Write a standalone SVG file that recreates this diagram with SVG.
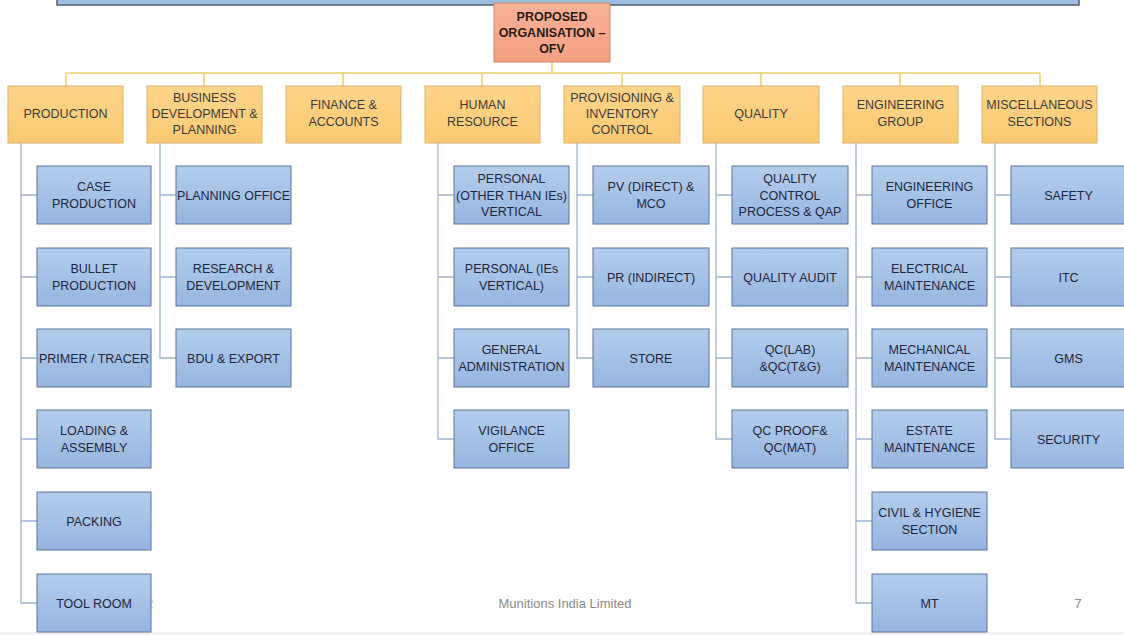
<svg xmlns="http://www.w3.org/2000/svg" width="1124" height="635" viewBox="0 0 1124 635">
  <defs>
    <linearGradient id="blueFill" x1="0" y1="0" x2="0" y2="1">
      <stop offset="0" stop-color="#b3cdec"/>
      <stop offset="1" stop-color="#97b5de"/>
    </linearGradient>
    <linearGradient id="goldFill" x1="0" y1="0" x2="0" y2="1">
      <stop offset="0" stop-color="#fdd48a"/>
      <stop offset="1" stop-color="#fbca72"/>
    </linearGradient>
    <linearGradient id="rootFill" x1="0" y1="0" x2="0" y2="1">
      <stop offset="0" stop-color="#f9b197"/>
      <stop offset="1" stop-color="#f4a082"/>
    </linearGradient>
    <style>
      text { font-family: "Liberation Sans", Arial, sans-serif; text-anchor: middle; }
      .unit rect { fill: url(#blueFill); stroke: #5b7498; stroke-width: 1; }
      .unit text { font-size: 12.5px; fill: #1e2740; }
      .dept rect { fill: url(#goldFill); stroke: #d8b36a; stroke-width: 1; }
      .dept text { font-size: 12.5px; fill: #3c3c3c; }
      .root rect { fill: url(#rootFill); stroke: #c88a72; stroke-width: 1; }
      .root text { font-size: 12.5px; font-weight: bold; fill: #2b1a14; }
      .bus { stroke: #f3d170; stroke-width: 1.6; fill: none; }
      .spine { stroke: #9fb4cf; stroke-width: 1.3; fill: none; }
      .footer { font-size: 13px; fill: #8a8a8a; }
    </style>
  </defs>

  <rect x="0" y="0" width="1124" height="635" fill="#ffffff"/>

  <!-- title banner edge along the top -->
  <rect x="57" y="-4" width="1022" height="9" fill="#9dbfe3" stroke="#5a5f6a" stroke-width="1.5"/>

  <!-- page footer -->
  <g id="footer">
    <text class="footer" x="150" y="608" fill="#c8c8c8" style="fill:#d0d0d0">2</text>
    <text class="footer" x="565" y="608">Munitions India Limited</text>
    <text class="footer" x="1078" y="608">7</text>
  </g>
  <rect x="0" y="632" width="1124" height="3" fill="#f1f1f1"/>

  <!-- connectors -->
  <g id="connectors">
    <path class="bus" d="M552 62 V73 M66 73 H1040 M66 73 V86 M204 73 V86 M343 73 V86 M482 73 V86 M622 73 V86 M761 73 V86 M900 73 V86 M1040 73 V86"/>
    <!-- production -->
    <path class="spine" d="M21 143 V603 H37 M21 195 H37 M21 277 H37 M21 358 H37 M21 439 H37 M21 521 H37"/>
    <!-- business development -->
    <path class="spine" d="M160 143 V358 H176 M160 195 H176 M160 277 H176"/>
    <!-- human resource -->
    <path class="spine" d="M438 143 V439 H454 M438 195 H454 M438 277 H454 M438 358 H454"/>
    <!-- provisioning -->
    <path class="spine" d="M577 143 V358 H593 M577 195 H593 M577 277 H593"/>
    <!-- quality -->
    <path class="spine" d="M716 143 V439 H732 M716 195 H732 M716 277 H732 M716 358 H732"/>
    <!-- engineering -->
    <path class="spine" d="M856 143 V603 H872 M856 195 H872 M856 277 H872 M856 358 H872 M856 439 H872 M856 521 H872"/>
    <!-- miscellaneous -->
    <path class="spine" d="M995 143 V439 H1011 M995 195 H1011 M995 277 H1011 M995 358 H1011"/>
  </g>

  <!-- root -->
  <g id="root" class="root">
    <rect x="494" y="3" width="116" height="59"/>
    <text x="552" y="20.5">PROPOSED</text>
    <text x="552" y="36.5">ORGANISATION –</text>
    <text x="552" y="52.5">OFV</text>
  </g>

  <!-- departments -->
  <g id="dept-production" class="dept">
    <rect x="8" y="86" width="115" height="57"/>
    <text x="65.5" y="117.5">PRODUCTION</text>
  </g>
  <g id="dept-business" class="dept">
    <rect x="147" y="86" width="115" height="57"/>
    <text x="204.5" y="101.5">BUSINESS</text>
    <text x="204.5" y="117.5">DEVELOPMENT &amp;</text>
    <text x="204.5" y="133.5">PLANNING</text>
  </g>
  <g id="dept-finance" class="dept">
    <rect x="286" y="86" width="115" height="57"/>
    <text x="343.5" y="109">FINANCE &amp;</text>
    <text x="343.5" y="126">ACCOUNTS</text>
  </g>
  <g id="dept-hr" class="dept">
    <rect x="425" y="86" width="115" height="57"/>
    <text x="482.5" y="109">HUMAN</text>
    <text x="482.5" y="126">RESOURCE</text>
  </g>
  <g id="dept-provisioning" class="dept">
    <rect x="564" y="86" width="116" height="57"/>
    <text x="622" y="101.5">PROVISIONING &amp;</text>
    <text x="622" y="117.5">INVENTORY</text>
    <text x="622" y="133.5">CONTROL</text>
  </g>
  <g id="dept-quality" class="dept">
    <rect x="703" y="86" width="116" height="57"/>
    <text x="761" y="117.5">QUALITY</text>
  </g>
  <g id="dept-engineering" class="dept">
    <rect x="843" y="86" width="115" height="57"/>
    <text x="900.5" y="109">ENGINEERING</text>
    <text x="900.5" y="126">GROUP</text>
  </g>
  <g id="dept-misc" class="dept">
    <rect x="982" y="86" width="115" height="57"/>
    <text x="1039.5" y="109">MISCELLANEOUS</text>
    <text x="1039.5" y="126">SECTIONS</text>
  </g>

  <!-- production units -->
  <g id="case-production" class="unit">
    <rect x="37" y="166" width="114" height="58"/>
    <text x="94" y="191">CASE</text>
    <text x="94" y="207.5">PRODUCTION</text>
  </g>
  <g id="bullet-production" class="unit">
    <rect x="37" y="248" width="114" height="58"/>
    <text x="94" y="273">BULLET</text>
    <text x="94" y="289.5">PRODUCTION</text>
  </g>
  <g id="primer-tracer" class="unit">
    <rect x="37" y="329" width="114" height="58"/>
    <text x="94" y="362.5">PRIMER / TRACER</text>
  </g>
  <g id="loading-assembly" class="unit">
    <rect x="37" y="410" width="114" height="58"/>
    <text x="94" y="435">LOADING &amp;</text>
    <text x="94" y="451.5">ASSEMBLY</text>
  </g>
  <g id="packing" class="unit">
    <rect x="37" y="492" width="114" height="58"/>
    <text x="94" y="525.5">PACKING</text>
  </g>
  <g id="tool-room" class="unit">
    <rect x="37" y="574" width="114" height="58"/>
    <text x="94" y="607.5">TOOL ROOM</text>
  </g>

  <!-- business development units -->
  <g id="planning-office" class="unit">
    <rect x="176" y="166" width="115" height="58"/>
    <text x="233.5" y="199.5">PLANNING OFFICE</text>
  </g>
  <g id="research-development" class="unit">
    <rect x="176" y="248" width="115" height="58"/>
    <text x="233.5" y="273">RESEARCH &amp;</text>
    <text x="233.5" y="289.5">DEVELOPMENT</text>
  </g>
  <g id="bdu-export" class="unit">
    <rect x="176" y="329" width="115" height="58"/>
    <text x="233.5" y="362.5">BDU &amp; EXPORT</text>
  </g>

  <!-- human resource units -->
  <g id="personal-other" class="unit">
    <rect x="454" y="166" width="115" height="58"/>
    <text x="511.5" y="183">PERSONAL</text>
    <text x="511.5" y="199.5">(OTHER THAN IEs)</text>
    <text x="511.5" y="216">VERTICAL</text>
  </g>
  <g id="personal-ies" class="unit">
    <rect x="454" y="248" width="115" height="58"/>
    <text x="511.5" y="273">PERSONAL (IEs</text>
    <text x="511.5" y="289.5">VERTICAL)</text>
  </g>
  <g id="general-admin" class="unit">
    <rect x="454" y="329" width="115" height="58"/>
    <text x="511.5" y="354">GENERAL</text>
    <text x="511.5" y="370.5">ADMINISTRATION</text>
  </g>
  <g id="vigilance-office" class="unit">
    <rect x="454" y="410" width="115" height="58"/>
    <text x="511.5" y="435">VIGILANCE</text>
    <text x="511.5" y="451.5">OFFICE</text>
  </g>

  <!-- provisioning units -->
  <g id="pv-direct" class="unit">
    <rect x="593" y="166" width="116" height="58"/>
    <text x="651" y="191">PV (DIRECT) &amp;</text>
    <text x="651" y="207.5">MCO</text>
  </g>
  <g id="pr-indirect" class="unit">
    <rect x="593" y="248" width="116" height="58"/>
    <text x="651" y="281.5">PR (INDIRECT)</text>
  </g>
  <g id="store" class="unit">
    <rect x="593" y="329" width="116" height="58"/>
    <text x="651" y="362.5">STORE</text>
  </g>

  <!-- quality units -->
  <g id="qc-process" class="unit">
    <rect x="732" y="166" width="116" height="58"/>
    <text x="790" y="183">QUALITY</text>
    <text x="790" y="199.5">CONTROL</text>
    <text x="790" y="216">PROCESS &amp; QAP</text>
  </g>
  <g id="quality-audit" class="unit">
    <rect x="732" y="248" width="116" height="58"/>
    <text x="790" y="281.5">QUALITY AUDIT</text>
  </g>
  <g id="qc-lab" class="unit">
    <rect x="732" y="329" width="116" height="58"/>
    <text x="790" y="354">QC(LAB)</text>
    <text x="790" y="370.5">&amp;QC(T&amp;G)</text>
  </g>
  <g id="qc-proof" class="unit">
    <rect x="732" y="410" width="116" height="58"/>
    <text x="790" y="435">QC PROOF&amp;</text>
    <text x="790" y="451.5">QC(MAT)</text>
  </g>

  <!-- engineering units -->
  <g id="engineering-office" class="unit">
    <rect x="872" y="166" width="115" height="58"/>
    <text x="929.5" y="191">ENGINEERING</text>
    <text x="929.5" y="207.5">OFFICE</text>
  </g>
  <g id="electrical-maintenance" class="unit">
    <rect x="872" y="248" width="115" height="58"/>
    <text x="929.5" y="273">ELECTRICAL</text>
    <text x="929.5" y="289.5">MAINTENANCE</text>
  </g>
  <g id="mechanical-maintenance" class="unit">
    <rect x="872" y="329" width="115" height="58"/>
    <text x="929.5" y="354">MECHANICAL</text>
    <text x="929.5" y="370.5">MAINTENANCE</text>
  </g>
  <g id="estate-maintenance" class="unit">
    <rect x="872" y="410" width="115" height="58"/>
    <text x="929.5" y="435">ESTATE</text>
    <text x="929.5" y="451.5">MAINTENANCE</text>
  </g>
  <g id="civil-hygiene" class="unit">
    <rect x="872" y="492" width="115" height="58"/>
    <text x="929.5" y="517">CIVIL &amp; HYGIENE</text>
    <text x="929.5" y="533.5">SECTION</text>
  </g>
  <g id="mt" class="unit">
    <rect x="872" y="574" width="115" height="58"/>
    <text x="929.5" y="607.5">MT</text>
  </g>

  <!-- miscellaneous units -->
  <g id="safety" class="unit">
    <rect x="1011" y="166" width="115" height="58"/>
    <text x="1068.5" y="199.5">SAFETY</text>
  </g>
  <g id="itc" class="unit">
    <rect x="1011" y="248" width="115" height="58"/>
    <text x="1068.5" y="281.5">ITC</text>
  </g>
  <g id="gms" class="unit">
    <rect x="1011" y="329" width="115" height="58"/>
    <text x="1068.5" y="362.5">GMS</text>
  </g>
  <g id="security" class="unit">
    <rect x="1011" y="410" width="115" height="58"/>
    <text x="1068.5" y="443.5">SECURITY</text>
  </g>
</svg>
